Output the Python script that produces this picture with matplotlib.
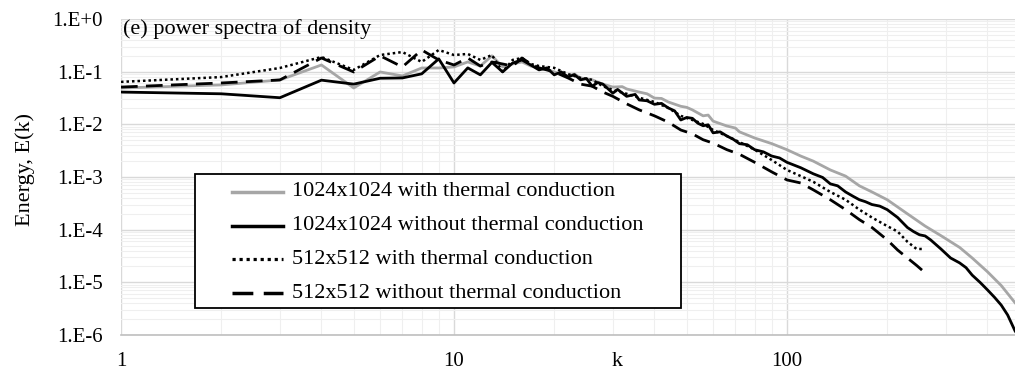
import matplotlib
matplotlib.use("Agg")
import matplotlib.pyplot as plt
from matplotlib.patches import Rectangle
from matplotlib.lines import Line2D
from matplotlib.ticker import LogLocator, FixedLocator, FixedFormatter, NullFormatter

plt.rcParams['font.family'] = ['Liberation Serif', 'DejaVu Serif']

# 1024x1024 with thermal conduction
k_1024_tc = [1, 2, 3, 4, 5, 6, 7, 8, 9, 10, 11, 12, 13, 14, 15, 16, 17, 18, 19, 20,
             22, 23, 24, 26, 28, 30, 32, 33, 36, 38, 40, 42, 44, 48, 50, 52, 56, 58, 60,
             66, 70, 72, 80, 90, 100, 110, 120, 135, 150, 165, 180, 200, 230, 260, 290,
             330, 360, 400, 440, 484, 512]
e_1024_tc = [0.049, 0.056, 0.0696, 0.134, 0.049, 0.0987, 0.083, 0.1175, 0.1175, 0.123,
             0.153, 0.128, 0.200, 0.123, 0.140, 0.153, 0.128, 0.118, 0.110, 0.099,
             0.083, 0.090, 0.076, 0.070, 0.058, 0.051, 0.052, 0.047, 0.041, 0.038,
             0.0315, 0.031, 0.0266, 0.022, 0.021, 0.0188, 0.0145, 0.0150, 0.0115,
             0.0093, 0.0085, 0.0072, 0.0055, 0.0043, 0.0033, 0.0025, 0.0020, 0.00136,
             0.00104, 0.00068, 0.00052, 0.00037, 0.00020, 0.000117, 0.000077,
             0.000046, 0.000029, 0.0000159, 0.0000087, 0.0000041, 0.0000028]

# 1024x1024 without thermal conduction
k_1024_no = [1, 2, 3, 4, 5, 6, 7, 8, 9, 10, 11, 12, 13, 14, 15, 16, 17, 18, 19, 20,
             21, 22, 23, 24, 25, 26, 27, 28, 30, 31, 33, 35, 36, 38, 40, 42, 44, 46,
             48, 50, 52, 54, 56, 58, 60, 63, 66, 69, 72, 76, 80, 85, 90, 95, 100, 110,
             120, 128, 135, 142, 150, 158, 165, 172, 180, 190, 200, 215, 230, 240, 250,
             260, 270, 290, 310, 330, 345, 360, 380, 400, 420, 440, 460, 484, 512]
e_1024_no = [0.041, 0.038, 0.032, 0.069, 0.058, 0.075, 0.076, 0.091, 0.175, 0.061,
             0.118, 0.087, 0.150, 0.099, 0.146, 0.167, 0.134, 0.108, 0.118, 0.087,
             0.099, 0.079, 0.088, 0.070, 0.074, 0.053, 0.062, 0.058, 0.039, 0.046,
             0.034, 0.037, 0.029, 0.028, 0.024, 0.025, 0.0205, 0.018, 0.0121, 0.0135,
             0.013, 0.0105, 0.0094, 0.0098, 0.0069, 0.0072, 0.0060, 0.0052, 0.0043,
             0.0041, 0.0033, 0.0030, 0.0025, 0.0023, 0.0019, 0.0015, 0.00115, 0.00098,
             0.00074, 0.00068, 0.00052, 0.00043, 0.00037, 0.00034, 0.00030, 0.00028,
             0.00024, 0.00017, 0.00011, 0.000092, 0.000080, 0.000076, 0.000064,
             0.000043, 0.000029, 0.0000234, 0.000019, 0.0000137, 0.000010, 0.0000072,
             0.0000052, 0.0000037, 0.0000024, 0.0000012, 0.0000007]

# 512x512 with thermal conduction
k_512_tc = [1, 2, 3, 4, 5, 6, 7, 8, 9, 10, 11, 12, 13, 14, 15, 16, 17, 18, 20, 22, 24,
            26, 28, 30, 33, 36, 40, 44, 48, 52, 56, 60, 66, 72, 80, 90, 100, 110, 120,
            135, 150, 165, 180, 200, 215, 230, 245, 256]
e_512_tc = [0.064, 0.079, 0.1175, 0.190, 0.108, 0.207, 0.236, 0.153, 0.258, 0.207,
            0.217, 0.167, 0.207, 0.099, 0.167, 0.182, 0.140, 0.128, 0.118, 0.090,
            0.076, 0.070, 0.053, 0.045, 0.038, 0.032, 0.0266, 0.0205, 0.0145, 0.0121,
            0.0102, 0.0078, 0.0060, 0.0046, 0.0033, 0.0021, 0.00136, 0.00104, 0.00081,
            0.00052, 0.00037, 0.00024, 0.00017, 0.000117, 0.000092, 0.000059,
            0.000043, 0.000043]

# 512x512 without thermal conduction
k_512_no = [1, 2, 3, 4, 5, 6, 7, 8, 9, 10, 11, 12, 13, 14, 15, 16, 17, 18, 20, 22, 24,
            26, 28, 30, 33, 36, 40, 44, 48, 52, 56, 60, 66, 72, 80, 90, 100, 110, 120,
            135, 150, 165, 180, 200, 215, 230, 245, 256]
e_512_no = [0.051, 0.061, 0.0696, 0.182, 0.0987, 0.200, 0.123, 0.258, 0.167, 0.134,
            0.182, 0.128, 0.153, 0.140, 0.128, 0.182, 0.140, 0.118, 0.099, 0.076,
            0.058, 0.053, 0.041, 0.034, 0.0245, 0.0188, 0.0145, 0.011, 0.0078, 0.0066,
            0.0051, 0.0044, 0.0033, 0.0027, 0.0019, 0.00125, 0.00088, 0.00077,
            0.00057, 0.00037, 0.00024, 0.000155, 0.00011, 0.000064, 0.000041,
            0.000029, 0.000021, 0.0000165]

labels = ["1024x1024 with thermal conduction",
          "1024x1024 without thermal conduction",
          "512x512 with thermal conduction",
          "512x512 without thermal conduction"]
y_ticks = [1e-6, 1e-5, 1e-4, 1e-3, 1e-2, 1e-1, 1e0]
y_ticklabels = ["1.E-6", "1.E-5", "1.E-4", "1.E-3", "1.E-2", "1.E-1", "1.E+0"]
x_ticks = [1, 10, 100]
x_ticklabels = ["1", "10", "100"]

W, H = 1015, 371
fig = plt.figure(figsize=(W / 100, H / 100), dpi=100)
fig.patch.set_facecolor('white')
ax = fig.add_axes([121 / W, 1 - 335 / H, (W - 121) / W, (335 - 19) / H])

styles = [dict(color='#a6a6a6', lw=2.0, ls='-'),
          dict(color='black', lw=2.0, ls='-'),
          dict(color='black', lw=1.8, ls=(0, (1, 1.2))),
          dict(color='black', lw=2.0, ls=(0, (6, 3)))]
series = [(k_1024_tc, e_1024_tc), (k_1024_no, e_1024_no),
          (k_512_tc, e_512_tc), (k_512_no, e_512_no)]
zorders = [3, 5, 4, 4]
for (kk, ee), st, z in zip(series, styles, zorders):
    ax.plot(kk, ee, color=st['color'], lw=st['lw'], ls=st['ls'], zorder=z)

ax.set_xscale('log')
ax.set_yscale('log')
ax.set_xlim(1, 484)
ax.set_ylim(1e-6, 1)

ax.xaxis.set_major_locator(FixedLocator(x_ticks))
ax.xaxis.set_major_formatter(FixedFormatter(x_ticklabels))
ax.yaxis.set_major_locator(FixedLocator(y_ticks))
ax.yaxis.set_major_formatter(FixedFormatter(y_ticklabels))
ax.xaxis.set_minor_locator(LogLocator(base=10, subs=range(2, 10), numticks=20))
ax.yaxis.set_minor_locator(LogLocator(base=10, subs=range(2, 10), numticks=20))
ax.xaxis.set_minor_formatter(NullFormatter())
ax.yaxis.set_minor_formatter(NullFormatter())

ax.grid(True, which='major', color='#d9d9d9', lw=1.0, zorder=0)
ax.grid(True, which='minor', color='#efefef', lw=0.8, zorder=0)
ax.set_axisbelow(True)
ax.tick_params(which='both', length=0)
ax.tick_params(axis='y', labelsize=15, pad=13)
ax.tick_params(axis='x', labelsize=15, pad=12)
for side in ['top', 'right', 'left']:
    ax.spines[side].set_visible(False)
ax.spines['bottom'].set_color('#bfbfbf')
ax.spines['bottom'].set_linewidth(1.2)

ax.set_xlabel('k', fontsize=16)
ax.xaxis.set_label_coords((617 - 121) / (W - 121), -(361 - 335) / 316)
ax.xaxis.label.set_va('center')
ax.set_ylabel('Energy, E(k)', fontsize=16)
ax.yaxis.set_label_coords((25 - 121) / (W - 121), (335 - 169) / 316)
ax.yaxis.label.set_va('center')

ax.text(0.002, (335 - 29) / 316, '(e) power spectra of density', transform=ax.transAxes,
        ha='left', va='center', fontsize=16, zorder=6)

# legend box drawn like the Excel one
def fx(x):
    return x / W

def fy(y):
    return 1 - y / H

box = Rectangle((fx(195), fy(308)), fx(681) - fx(195), fy(174) - fy(308),
                transform=fig.transFigure, facecolor='white', edgecolor='black',
                lw=1.3, zorder=10)
fig.add_artist(box)
for i, (lab, st) in enumerate(zip(labels, styles)):
    yy = [192, 226, 259, 293][i]
    fig.add_artist(Line2D([fx(232), fx(283)], [fy(yy), fy(yy)], transform=fig.transFigure,
                          color=st['color'], lw=st['lw'] + 0.5, ls=st['ls'], zorder=11))
    fig.text(fx(292), fy(yy), lab, ha='left', va='center', fontsize=16, zorder=11)

fig.savefig('out.png', dpi=100)
